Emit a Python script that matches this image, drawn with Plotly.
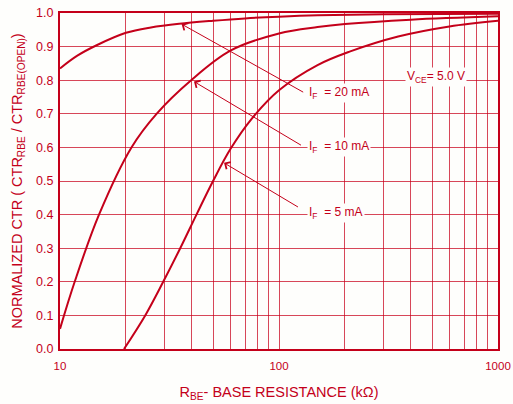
import numpy as np
import plotly.graph_objects as go

# ---- data ----
r_20ma = [10, 12, 14.7, 20, 26, 35, 50, 70, 100, 150, 300, 1000]
ctr_20ma = [0.835, 0.873, 0.904, 0.941, 0.957, 0.968, 0.977, 0.984, 0.989, 0.993, 0.996, 0.998]

r_10ma = [10, 11.67, 15.07, 21.2, 27.6, 39.7, 60, 100, 150, 200, 400, 1000]
ctr_10ma = [0.06, 0.2, 0.4, 0.6, 0.7, 0.8, 0.888, 0.939, 0.958, 0.967, 0.98, 0.99]

r_5ma = [19.6, 24.5, 29.6, 35.4, 42, 50, 60, 75, 100, 150, 210, 350, 600, 1000]
ctr_5ma = [0.0, 0.1, 0.2, 0.3, 0.4, 0.5, 0.595, 0.685, 0.77, 0.845, 0.885, 0.93, 0.96, 0.977]

x_tickvals = [10, 20, 30, 40, 50, 60, 70, 80, 90, 100, 200, 300, 400, 500, 600, 700, 800, 900, 1000]
x_ticktext = ["10", "", "", "", "", "", "", "", "", "100", "", "", "", "", "", "", "", "", "1000"]
y_tickvals = [0.0, 0.1, 0.2, 0.3, 0.4, 0.5, 0.6, 0.7, 0.8, 0.9, 1.0]
y_ticktext = ["0.0", "0.1", "0.2", "0.3", "0.4", "0.5", "0.6", "0.7", "0.8", "0.9", "1.0"]

# curve labels and their arrows (arrow head on the curve, tail at the label)
label_text = ["I<sub>F</sub>  = 20 mA", "I<sub>F</sub>  = 10 mA", "I<sub>F</sub>  = 5 mA"]
label_x = [134, 134, 134]
label_y = [0.762, 0.601, 0.405]
head_x = [35.9, 40.9, 56.1]
head_y = [0.967, 0.796, 0.554]
tail_x = [131, 128, 124]
tail_y = [0.762, 0.604, 0.42]

vce_text = "V<sub>CE</sub>= 5.0 V"
vce_x = 520
vce_y = 0.81

RED = "#c4001a"
GRID = "rgba(200,0,26,0.72)"
BG = "#fefefc"
FONT = "Liberation Sans, Arial, sans-serif"

fig = go.Figure()
for xs, ys in [(r_20ma, ctr_20ma), (r_10ma, ctr_10ma), (r_5ma, ctr_5ma)]:
    fig.add_trace(go.Scatter(x=xs, y=ys, mode="lines",
                             line=dict(color=RED, width=2, shape="spline", smoothing=1.0),
                             showlegend=False, hoverinfo="skip"))

annotations = []
for t, tx, ty, hx, hy, sx, sy in zip(label_text, label_x, label_y, head_x, head_y, tail_x, tail_y):
    annotations.append(dict(x=np.log10(hx), y=hy, xref="x", yref="y",
                            ax=np.log10(sx), ay=sy, axref="x", ayref="y",
                            text="", showarrow=True, arrowhead=4, arrowsize=1.6,
                            arrowwidth=1, arrowcolor=RED))
    annotations.append(dict(x=np.log10(tx), y=ty, xref="x", yref="y", text=t,
                            showarrow=False, xanchor="left", yanchor="middle",
                            font=dict(size=12, color=RED, family=FONT),
                            bgcolor=BG, borderpad=1))
annotations.append(dict(x=np.log10(vce_x), y=vce_y, xref="x", yref="y",
                        text=vce_text, showarrow=False,
                        xanchor="center", yanchor="middle",
                        font=dict(size=12, color=RED, family=FONT),
                        bgcolor=BG, borderpad=1))

fig.update_layout(
    width=513, height=404,
    margin=dict(l=60, r=15, t=13, b=55),
    paper_bgcolor=BG, plot_bgcolor=BG,
    font=dict(family=FONT, color=RED, size=12),
    annotations=annotations,
    xaxis=dict(type="log", range=[1, 3], tickvals=x_tickvals, ticktext=x_ticktext,
               automargin=False,
               showgrid=True, gridcolor=GRID, gridwidth=1,
               showline=True, linecolor=RED, linewidth=2, mirror=True,
               ticks="outside", ticklen=5, tickcolor="rgba(0,0,0,0)",
               tickfont=dict(size=11.5, color=RED, family=FONT),
               zeroline=False,
               title=dict(text="R<sub>BE</sub>- BASE RESISTANCE (kΩ)",
                          font=dict(size=14.5, color=RED, family=FONT), standoff=16)),
    yaxis=dict(range=[0, 1], tickvals=y_tickvals, ticktext=y_ticktext,
               automargin=False,
               showgrid=True, gridcolor=GRID, gridwidth=1,
               showline=True, linecolor=RED, linewidth=2, mirror=True,
               ticks="outside", ticklen=2, tickcolor="rgba(0,0,0,0)",
               tickfont=dict(size=12.5, color=RED, family=FONT),
               zeroline=False,
               title=dict(text="NORMALIZED CTR ( CTR<sub>RBE</sub> / CTR<sub>RBE(OPEN)</sub>)",
                          font=dict(size=14.5, color=RED, family=FONT), standoff=10)),
)

fig.write_html("out.html")
